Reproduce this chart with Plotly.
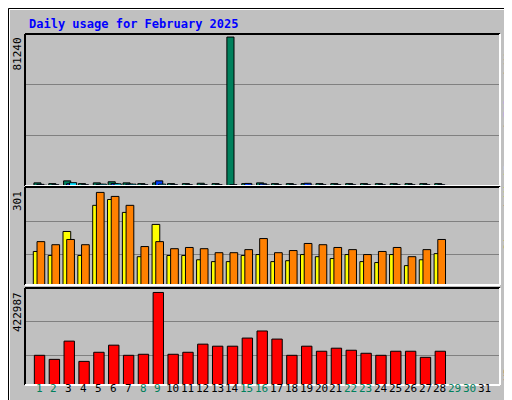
import plotly.graph_objects as go

days = list(range(1, 32))
weekend = [1, 2, 8, 9, 15, 16, 22, 23, 29, 30]
d28 = list(range(1, 29))

hits = [1700,1300,2800,1300,1700,2300,1700,1300,1700,1300,1300,1500,1300,81240,1300,1700,1300,1300,1300,1300,1300,1300,1300,1300,1300,1300,1300,1300]
files = [900,700,1200,700,900,1300,1000,700,2800,700,700,700,700,700,1400,1200,700,700,1500,700,700,700,700,700,700,700,700,700]
pages = [400,300,1800,300,1000,1200,1000,300,1000,300,300,300,300,300,400,600,300,300,400,300,300,300,300,300,300,300,300,300]
visits = [109,96,174,96,259,278,236,92,197,96,96,82,76,76,96,99,76,79,99,92,86,99,76,73,99,63,82,102]
sites = [141,131,148,131,301,288,259,125,141,118,122,118,105,105,115,151,105,112,135,131,122,115,99,109,122,92,115,148]
kbytes = [135700,117200,200600,107900,149600,182100,135700,140400,422987,140400,149600,186700,177400,177400,214500,246900,209900,135700,177400,154300,168200,158900,145000,135700,154300,154300,126500,154300]

BG = "#C0C0C0"
C_HITS, C_FILES, C_PAGES = "#00805C", "#0040FF", "#00E0FF"
C_VIS, C_SITES, C_KB = "#FFFF00", "#FF8000", "#FF0000"
FONT = "DejaVu Sans Mono"

def px(x): return (x - 17) / 475
def py(y): return (377 - y) / 351

fig = go.Figure()
ln = dict(color="black", width=1)
W = 0.48
fig.add_bar(x=d28, y=hits, width=W, offset=-0.5, marker=dict(color=C_HITS, line=ln), xaxis="x", yaxis="y")
fig.add_bar(x=d28, y=files, width=W, offset=-0.3, marker=dict(color=C_FILES, line=ln), xaxis="x", yaxis="y")
fig.add_bar(x=d28, y=pages, width=W, offset=-0.1, marker=dict(color=C_PAGES, line=ln), xaxis="x", yaxis="y")
fig.add_bar(x=d28, y=visits, width=0.52, offset=-0.54, marker=dict(color=C_VIS, line=ln), xaxis="x2", yaxis="y2")
fig.add_bar(x=d28, y=sites, width=0.52, offset=-0.29, marker=dict(color=C_SITES, line=ln), xaxis="x2", yaxis="y2")
fig.add_bar(x=d28, y=kbytes, width=0.7, offset=-0.47, marker=dict(color=C_KB, line=ln), xaxis="x3", yaxis="y3")

xr = [-0.1, 31.9]
topmax = max(hits) * 149 / 146
midmax = max(sites) * 97.7 / 92.3
botmax = max(kbytes) * 95.7 / 91.3
xa = dict(range=xr, showticklabels=False, showgrid=False, zeroline=False, fixedrange=True)
def ya(dom, rng, frac):
    return dict(domain=dom, range=[0, rng], tickvals=[f * rng for f in frac], showticklabels=False,
                gridcolor="#808080", gridwidth=1, zeroline=False, ticks="")
fig.update_layout(
    width=512, height=400, paper_bgcolor=BG, plot_bgcolor=BG, showlegend=False,
    barmode="overlay", margin=dict(l=17, r=20, t=26, b=23, autoexpand=False),
    xaxis=dict(xa, anchor="y"), xaxis2=dict(xa, anchor="y2"), xaxis3=dict(xa, anchor="y3"),
    yaxis=ya([py(178), 1], topmax, [1/3, 2/3]),
    yaxis2=ya([py(277), py(179)], midmax, [0.31, 0.65]),
    yaxis3=ya([0, py(280)], botmax, [0.307, 0.652]),
    font=dict(family=FONT, size=11),
)

shapes = []
shapes += [
    dict(type="rect", xref="paper", yref="paper", x0=px(0.5), x1=px(511.5), y0=py(399.5), y1=py(0.5), line=dict(color="black", width=1)),
    dict(type="line", xref="paper", yref="paper", x0=px(1.5), x1=px(510), y0=py(1.5), y1=py(1.5), line=dict(color="white", width=1)),
    dict(type="line", xref="paper", yref="paper", x0=px(1.5), x1=px(1.5), y0=py(1.5), y1=py(398), line=dict(color="white", width=1)),
    dict(type="line", xref="paper", yref="paper", x0=px(2), x1=px(510.5), y0=py(398.5), y1=py(398.5), line=dict(color="#808080", width=1)),
    dict(type="line", xref="paper", yref="paper", x0=px(510.5), x1=px(510.5), y0=py(2), y1=py(398.5), line=dict(color="#808080", width=1)),
]
for (t, b) in [(26, 178), (179, 277), (280, 377)]:
    shapes += [
        dict(type="line", xref="paper", yref="paper", x0=0, x1=1, y0=py(t), y1=py(t), line=dict(color="black", width=2)),
        dict(type="line", xref="paper", yref="paper", x0=0, x1=0, y0=py(t), y1=py(b), line=dict(color="black", width=2)),
        dict(type="line", xref="paper", yref="paper", x0=0, x1=1, y0=py(b), y1=py(b), line=dict(color="white", width=2)),
        dict(type="line", xref="paper", yref="paper", x0=1, x1=1, y0=py(t), y1=py(b), line=dict(color="white", width=2)),
    ]
fig.update_layout(shapes=shapes)

ann = [dict(text="<b>Daily usage for February 2025</b>", x=px(19), y=py(16), xref="paper", yref="paper",
            xanchor="left", yanchor="middle", showarrow=False, font=dict(color="#0000FF", size=12, family=FONT))]
for d in days:
    ann.append(dict(text=str(d), x=d - 0.15, y=py(389), xref="x3", yref="paper", showarrow=False,
                    font=dict(color="#00805C" if d in weekend else "black", size=11, family=FONT)))
for txt, ytop in [(str(max(hits)), 28), (str(max(sites)), 181), (str(max(kbytes)), 282)]:
    ann.append(dict(text=txt, x=px(9), y=py(ytop), xref="paper", yref="paper", textangle=-90,
                    xanchor="center", yanchor="top", showarrow=False, font=dict(color="black", size=11, family=FONT)))
def rl(parts, ybot):
    s = "<span style='color:black'>/</span>".join(f"<span style='color:{c}'>{t}</span>" for t, c in parts)
    return dict(text=s, x=px(500), y=py(ybot), xref="paper", yref="paper", textangle=-90,
                xanchor="center", yanchor="bottom", showarrow=False, font=dict(size=11, family=FONT))
ann.append(rl([("Pages ", C_PAGES), (" Files ", C_FILES), (" Hits", C_HITS)], 165))
ann.append(rl([("Sites ", C_SITES), (" Visits", C_VIS)], 245))
ann.append(rl([("KBytes", C_KB)], 375))
fig.update_layout(annotations=ann)

fig.write_html("out.html")
